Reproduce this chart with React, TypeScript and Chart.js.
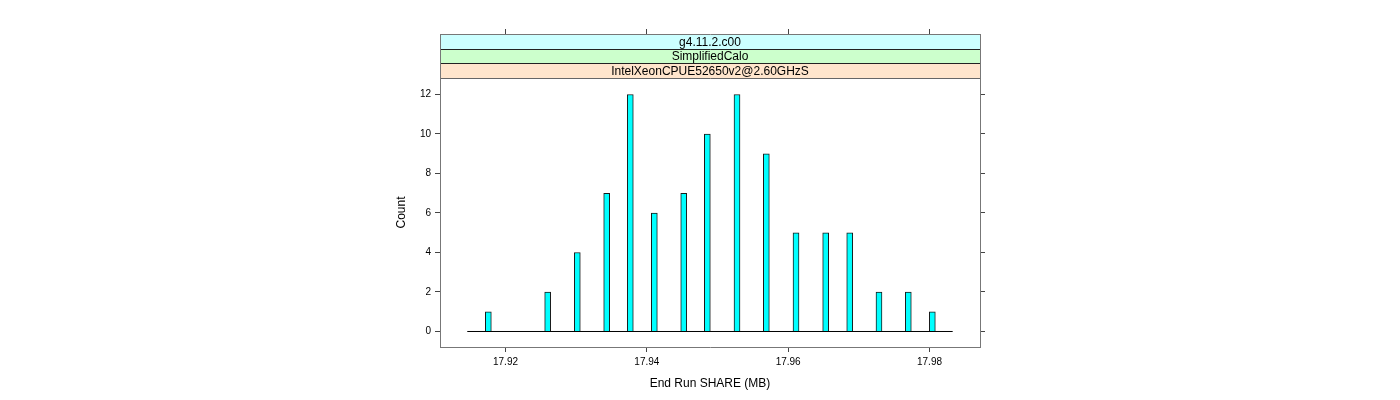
import React, { useEffect, useRef } from "react";
import { Chart, registerables } from "chart.js";

Chart.register(...registerables);

// ---- data ----
const binCenters = [
  17.91757, 17.92597, 17.93016, 17.93432, 17.93766, 17.94106, 17.94522, 17.94856,
  17.95276, 17.95691, 17.96111, 17.96531, 17.96871, 17.97285, 17.977, 17.9804,
];
const counts = [1, 2, 4, 7, 12, 6, 7, 10, 12, 9, 5, 5, 5, 2, 2, 1];
const baselineRange = [17.91459, 17.98328];
const xTicks = [17.92, 17.94, 17.96, 17.98];
const yTicks = [0, 2, 4, 6, 8, 10, 12];
const stripLabels = ["g4.11.2.c00", "SimplifiedCalo", "IntelXeonCPUE52650v2@2.60GHzS"];
const stripColors = ["#CCFFFF", "#CCFFCC", "#FFE5CC"];
const xLimits = [17.910731, 17.987146];
const yLimits = [-0.7848, 15.063];
const xTitle = "End Run SHARE (MB)";
const yTitle = "Count";

const FONT = "'Liberation Sans', Arial, Helvetica, sans-serif";

const latticePlugin = {
  id: "lattice",
  afterDatasetsDraw(chart: any) {
    const { ctx, chartArea: a } = chart;
    ctx.save();
    const h = 44 / 3;
    for (let i = 0; i < stripLabels.length; i++) {
      const y0 = Math.round(a.top + i * h);
      const y1 = Math.round(a.top + (i + 1) * h);
      ctx.fillStyle = stripColors[i];
      ctx.fillRect(a.left + 1, y0 + 1, a.right - a.left - 1, y1 - y0);
      ctx.fillStyle = "#000";
      ctx.font = `12px ${FONT}`;
      ctx.textAlign = "center";
      ctx.textBaseline = "middle";
      ctx.fillText(stripLabels[i], (a.left + a.right) / 2, (y0 + y1) / 2 + 1);
    }
    ctx.lineWidth = 1;
    for (let i = 1; i <= stripLabels.length; i++) {
      const y = Math.round(a.top + i * h) + 0.5;
      ctx.strokeStyle = i === stripLabels.length ? "#666" : "#222";
      ctx.beginPath();
      ctx.moveTo(a.left + 1, y);
      ctx.lineTo(a.right, y);
      ctx.stroke();
    }
    // axis titles
    ctx.fillStyle = "#000";
    ctx.font = `12px ${FONT}`;
    ctx.textAlign = "center";
    ctx.textBaseline = "middle";
    ctx.fillText(xTitle, (a.left + a.right) / 2, 384);
    ctx.save();
    ctx.translate(401.5, (Math.round(a.top + 3 * h) + a.bottom) / 2);
    ctx.rotate(-Math.PI / 2);
    ctx.fillText(yTitle, 0, 0);
    ctx.restore();
    ctx.restore();
  },
};

const gridOpts = {
  drawOnChartArea: false,
  drawTicks: true,
  tickLength: 5,
  color: "#444",
  offset: false,
};
const borderOpts = { display: true, color: "#777", width: 1 };
const tickFont = { family: FONT, size: 10 };

export default function App() {
  const ref = useRef<HTMLCanvasElement>(null);
  useEffect(() => {
    Chart.defaults.font.family = FONT;
    const xBuild = (s: any) => {
      s.ticks = xTicks.map((v) => ({ value: v }));
    };
    const yBuild = (s: any) => {
      s.ticks = yTicks.map((v) => ({ value: v }));
    };
    const chart = new Chart(ref.current as HTMLCanvasElement, {
      type: "bar",
      data: {
        datasets: [
          {
            type: "line",
            data: baselineRange.map((x) => ({ x, y: 0 })),
            borderColor: "#000",
            borderWidth: 1,
            pointRadius: 0,
            xAxisID: "x",
            yAxisID: "y",
          } as any,
          {
            type: "bar",
            data: binCenters.map((x, i) => ({ x, y: counts[i] })),
            backgroundColor: "#00FFFF",
            borderColor: "#1a1a1a",
            borderWidth: 1,
            barThickness: 6,
            xAxisID: "x",
            yAxisID: "y",
          } as any,
        ],
      },
      options: {
        animation: false,
        responsive: false,
        devicePixelRatio: 1,
        layout: { padding: 0 },
        plugins: {
          legend: { display: false },
          tooltip: { enabled: false },
          title: { display: false },
        },
        scales: {
          x: {
            type: "linear",
            position: "bottom",
            min: xLimits[0],
            max: xLimits[1],
            offset: false,
            grid: gridOpts,
            border: borderOpts,
            ticks: {
              font: tickFont,
              color: "#000",
              padding: 4,
              maxRotation: 0,
              autoSkip: false,
              callback: (v: any) => Number(v).toFixed(2),
            },
            afterBuildTicks: xBuild,
            afterFit: (s: any) => {
              s.height = 53;
            },
          },
          x2: {
            type: "linear",
            position: "top",
            min: xLimits[0],
            max: xLimits[1],
            offset: false,
            grid: gridOpts,
            border: borderOpts,
            ticks: { display: false },
            afterBuildTicks: xBuild,
            afterFit: (s: any) => {
              s.height = 34;
            },
          },
          y: {
            type: "linear",
            position: "left",
            min: yLimits[0],
            max: yLimits[1],
            grid: gridOpts,
            border: borderOpts,
            ticks: {
              font: tickFont,
              color: "#000",
              padding: 4,
              autoSkip: false,
              callback: (v: any) => String(v),
            },
            afterBuildTicks: yBuild,
            afterFit: (s: any) => {
              s.width = 440;
            },
          },
          y2: {
            type: "linear",
            position: "right",
            min: yLimits[0],
            max: yLimits[1],
            grid: gridOpts,
            border: borderOpts,
            ticks: { display: false },
            afterBuildTicks: yBuild,
            afterFit: (s: any) => {
              s.width = 420;
            },
          },
        } as any,
      },
      plugins: [latticePlugin],
    } as any);
    return () => chart.destroy();
  }, []);
  return (
    <canvas
      ref={ref}
      width={1400}
      height={400}
      style={{ position: "fixed", left: 0, top: 0, width: 1400, height: 400, background: "#fff" }}
    />
  );
}
